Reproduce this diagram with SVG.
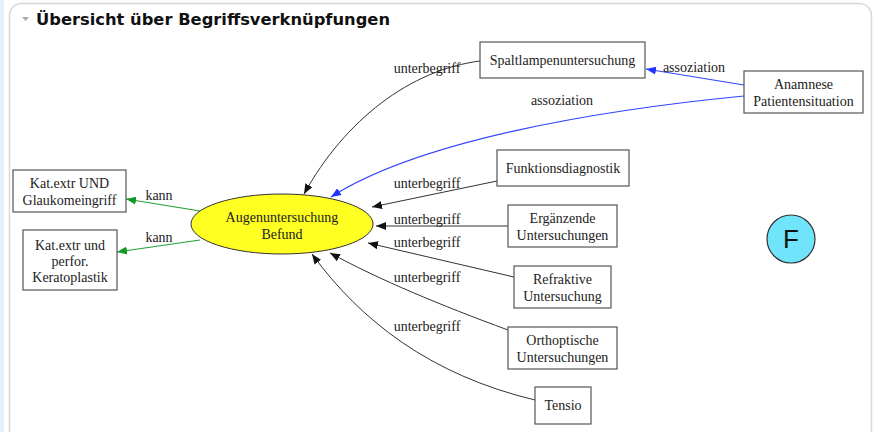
<svg xmlns="http://www.w3.org/2000/svg" width="882" height="432" viewBox="0 0 882 432">
<defs>
<style>
.t{font-family:"Liberation Serif","Times New Roman",serif;font-size:14px;fill:#222;text-anchor:middle}
.l{font-family:"Liberation Serif","Times New Roman",serif;font-size:14px;fill:#222;text-anchor:middle}
.box{fill:#fff;stroke:#555;stroke-width:1.2}
.e{fill:none;stroke:#333;stroke-width:1}
.b{fill:none;stroke:#3344ff;stroke-width:1.2}
.g{fill:none;stroke:#22a033;stroke-width:1.2}
</style>
<marker id="ak" viewBox="0 0 10 10" refX="10" refY="5" markerWidth="10" markerHeight="10" markerUnits="userSpaceOnUse" orient="auto"><path d="M0,1 L10,5 L0,9 Z" fill="#111"/></marker>
<marker id="ab" viewBox="0 0 10 10" refX="10" refY="5" markerWidth="10" markerHeight="10" markerUnits="userSpaceOnUse" orient="auto"><path d="M0,1 L10,5 L0,9 Z" fill="#2233ff"/></marker>
<marker id="ag" viewBox="0 0 10 10" refX="10" refY="5" markerWidth="10" markerHeight="10" markerUnits="userSpaceOnUse" orient="auto"><path d="M0,1 L10,5 L0,9 Z" fill="#119922"/></marker>
</defs>
<rect x="0" y="0" width="882" height="432" fill="#fff"/>
<rect x="0" y="0" width="4" height="432" fill="#e6f0fb"/>
<rect x="9.5" y="3.5" width="862" height="440" rx="12" fill="#fff" stroke="#d8d8d8" stroke-width="1.5"/>
<path d="M22,17 L29,17 L25.5,21 Z" fill="#aaa"/>
<text x="36" y="25" font-family="DejaVu Sans, Verdana, sans-serif" font-weight="bold" font-size="16" textLength="354" lengthAdjust="spacingAndGlyphs" fill="#111">Übersicht über Begriffsverknüpfungen</text>

<g id="connectors">
<path class="e" d="M480,61 C410,70 345,120 304,194" marker-end="url(#ak)"/>
<text class="l" x="427" y="73">unterbegriff</text>
<path class="b" d="M744,85 L646,69" marker-end="url(#ab)"/>
<text class="l" x="694" y="72">assoziation</text>
<path class="b" d="M744,96 C600,110 420,140 331,197" marker-end="url(#ab)"/>
<text class="l" x="562" y="105">assoziation</text>
<path class="e" d="M497,181 L372,207" marker-end="url(#ak)"/>
<text class="l" x="427" y="188">unterbegriff</text>
<path class="e" d="M508,226 L376,226" marker-end="url(#ak)"/>
<text class="l" x="427" y="224">unterbegriff</text>
<path class="e" d="M514,277 L368,243" marker-end="url(#ak)"/>
<text class="l" x="427" y="247">unterbegriff</text>
<path class="e" d="M508,330 C440,305 380,280 330,253" marker-end="url(#ak)"/>
<text class="l" x="427" y="282">unterbegriff</text>
<path class="e" d="M535,400 C430,375 360,320 312,254" marker-end="url(#ak)"/>
<text class="l" x="427" y="331">unterbegriff</text>
<path class="g" d="M200,211 L126,199" marker-end="url(#ag)"/>
<text class="l" x="159" y="200">kann</text>
<path class="g" d="M200,240 L117,252" marker-end="url(#ag)"/>
<text class="l" x="159" y="242">kann</text>
</g>

<g id="n-augen">
<ellipse cx="282" cy="224" rx="91" ry="30" fill="#ffff22" stroke="#333" stroke-width="1"/>
<text class="t" x="282" y="222">Augenuntersuchung</text>
<text class="t" x="282" y="239">Befund</text>
</g>
<g id="n-spalt">
<rect class="box" x="480" y="42" width="165" height="36"/>
<text class="t" x="562.5" y="65">Spaltlampenuntersuchung</text>
</g>
<g id="n-anamnese">
<rect class="box" x="744" y="71" width="119" height="42"/>
<text class="t" x="803.5" y="89">Anamnese</text>
<text class="t" x="803.5" y="106">Patientensituation</text>
</g>
<g id="n-funktion">
<rect class="box" x="497" y="150" width="132" height="36"/>
<text class="t" x="563" y="173">Funktionsdiagnostik</text>
</g>
<g id="n-ergaenz">
<rect class="box" x="508" y="205" width="109" height="42"/>
<text class="t" x="562.5" y="223">Ergänzende</text>
<text class="t" x="562.5" y="240">Untersuchungen</text>
</g>
<g id="n-refrakt">
<rect class="box" x="514" y="266" width="97" height="42"/>
<text class="t" x="562.5" y="284">Refraktive</text>
<text class="t" x="562.5" y="301">Untersuchung</text>
</g>
<g id="n-ortho">
<rect class="box" x="508" y="327" width="109" height="42"/>
<text class="t" x="562.5" y="345">Orthoptische</text>
<text class="t" x="562.5" y="362">Untersuchungen</text>
</g>
<g id="n-tensio">
<rect class="box" x="535" y="387" width="56" height="37"/>
<text class="t" x="563" y="410">Tensio</text>
</g>
<g id="n-katglauk">
<rect class="box" x="13" y="170" width="113" height="42"/>
<text class="t" x="69.5" y="188">Kat.extr UND</text>
<text class="t" x="69.5" y="205">Glaukomeingriff</text>
</g>
<g id="n-katkerato">
<rect class="box" x="23" y="230" width="94" height="60"/>
<text class="t" x="70" y="250">Kat.extr und</text>
<text class="t" x="70" y="266">perfor.</text>
<text class="t" x="70" y="282">Keratoplastik</text>
</g>
<g id="n-F">
<circle cx="791" cy="239" r="24" fill="#6fe4fb" stroke="#333" stroke-width="1.2"/>
<text x="791" y="248" font-family="Liberation Sans, Arial, sans-serif" font-size="26" text-anchor="middle" fill="#111">F</text>
</g>
</svg>
